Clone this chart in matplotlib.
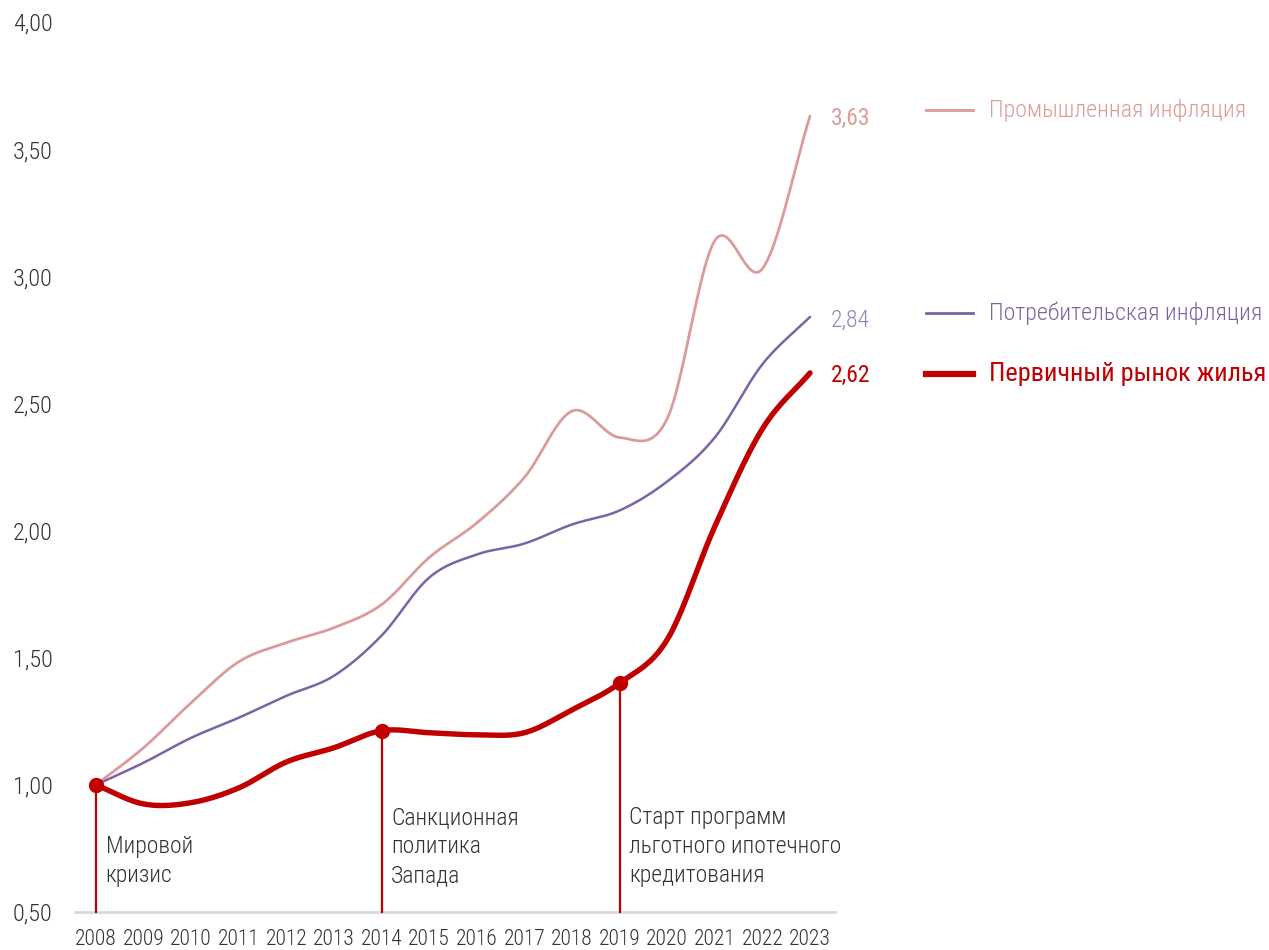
import numpy as np
import matplotlib
matplotlib.use("Agg")
import matplotlib.pyplot as plt
from matplotlib import font_manager
from matplotlib.lines import Line2D

# ---- data -------------------------------------------------------------
years = list(range(2008, 2024))
industrial = [1.00, 1.146, 1.323, 1.484, 1.559, 1.618, 1.709, 1.894,
              2.030, 2.209, 2.470, 2.366, 2.440, 3.140, 3.030, 3.63]
consumer = [1.00, 1.087, 1.185, 1.264, 1.350, 1.429, 1.587, 1.815,
            1.906, 1.949, 2.024, 2.079, 2.193, 2.366, 2.654, 2.84]
housing = [1.00, 0.925, 0.930, 0.988, 1.090, 1.146, 1.213, 1.205,
           1.197, 1.205, 1.295, 1.400, 1.571, 2.016, 2.400, 2.62]
y_ticks = [0.5, 1.0, 1.5, 2.0, 2.5, 3.0, 3.5, 4.0]

series_names = ["Промышленная инфляция", "Потребительская инфляция",
                "Первичный рынок жилья"]
event_years = [2008, 2014, 2019]
event_texts = [["Мировой", "кризис"],
               ["Санкционная", "политика", "Запада"],
               ["Старт программ", "льготного ипотечного", "кредитования"]]

# ---- style ------------------------------------------------------------
available = {f.name for f in font_manager.fontManager.ttflist}
base_font = "Roboto Condensed" if "Roboto Condensed" in available else "Roboto"
plt.rcParams["font.family"] = [base_font, "DejaVu Sans"]

C_IND = "#dc9b9b"
C_CON = "#7b64a6"
C_HOU = "#c00000"
C_TXT = "#333333"


def smooth(x, y, n=40):
    """Cubic Hermite curve through the points (Catmull-Rom tangents)."""
    x = np.asarray(x, float)
    y = np.asarray(y, float)
    m = np.empty_like(y)
    m[1:-1] = (y[2:] - y[:-2]) / (x[2:] - x[:-2])
    m[0] = (y[1] - y[0]) / (x[1] - x[0])
    m[-1] = (y[-1] - y[-2]) / (x[-1] - x[-2])
    xs, ys = [], []
    for i in range(len(x) - 1):
        h = x[i + 1] - x[i]
        t = np.linspace(0, 1, n, endpoint=(i == len(x) - 2))
        h00 = 2 * t**3 - 3 * t**2 + 1
        h10 = t**3 - 2 * t**2 + t
        h01 = -2 * t**3 + 3 * t**2
        h11 = t**3 - t**2
        xs.append(x[i] + t * h)
        ys.append(h00 * y[i] + h10 * h * m[i] + h01 * y[i + 1] + h11 * h * m[i + 1])
    return np.concatenate(xs), np.concatenate(ys)


W, H = 1269, 950
fig = plt.figure(figsize=(W / 100, H / 100), dpi=100)
ax = fig.add_axes([75 / W, (H - 912) / H, (835 - 75) / W, (912 - 22) / H])
ax.set_xlim(2007.56, 2023.525)
ax.set_ylim(0.5, 4.0)

# ---- lines ------------------------------------------------------------
for vals, col, lw, z in [(industrial, C_IND, 2.0, 2),
                         (consumer, C_CON, 1.8, 3),
                         (housing, C_HOU, 3.9, 4)]:
    sx, sy = smooth(years, vals)
    ax.plot(sx, sy, color=col, lw=lw, solid_capstyle="round", zorder=z)

# event markers with drop lines
for ey, lines in zip(event_years, event_texts):
    v = housing[years.index(ey)]
    ax.plot([ey, ey], [0.5, v], color=C_HOU, lw=1.6, zorder=4, clip_on=False)
    ax.plot([ey], [v], "o", color=C_HOU, ms=10, zorder=5, clip_on=False)
    n = len(lines)
    for i, line in enumerate(lines):
        ax.annotate(line, xy=(ey, 0.6417), xytext=(7, (n - 1 - i) * 21),
                    textcoords="offset points", ha="left", va="center",
                    fontsize=17, fontweight="light", color=C_TXT)

# end value labels
for vals, col, w in [(industrial, C_IND, "normal"),
                     (consumer, "#9484b8", "light"),
                     (housing, C_HOU, "normal")]:
    v = vals[-1]
    ax.annotate(f"{v:.2f}".replace(".", ","), xy=(years[-1], v),
                xytext=(15, -2), textcoords="offset points",
                ha="left", va="center", fontsize=17, fontweight=w,
                color=col)

# ---- axes -------------------------------------------------------------
ax.set_yticks(y_ticks)
ax.set_yticklabels([f"{t:.2f}".replace(".", ",") for t in y_ticks])
ax.set_xticks(years)
ax.set_xticklabels([str(y) for y in years])
ax.tick_params(axis="y", length=0, pad=16, labelsize=17.5, labelcolor=C_TXT)
ax.tick_params(axis="x", length=0, pad=12, labelsize=15.5, labelcolor=C_TXT)
for lab in ax.get_xticklabels() + ax.get_yticklabels():
    lab.set_fontweight("light")
for s in ["top", "right", "left"]:
    ax.spines[s].set_visible(False)
ax.spines["bottom"].set_color("#d9d9d9")
ax.spines["bottom"].set_linewidth(2)
ax.spines["bottom"].set_zorder(1)

# ---- legend -----------------------------------------------------------
legend_rows = [(110, C_IND, 2.0, series_names[0], 17.2, "light"),
               (313, C_CON, 2.0, series_names[1], 17.2, "light"),
               (374, C_HOU, 4.5, series_names[2], 19, "normal")]
for py, col, lw, name, fs, w in legend_rows:
    fy = (H - py) / H
    fig.add_artist(Line2D([926 / W, 973 / W], [fy, fy], color=col, lw=lw,
                          transform=fig.transFigure))
    fig.text(989 / W, fy, name, color=col, fontsize=fs, fontweight=w,
             ha="left", va="center")

fig.savefig("out.png", dpi=100, facecolor="white")
